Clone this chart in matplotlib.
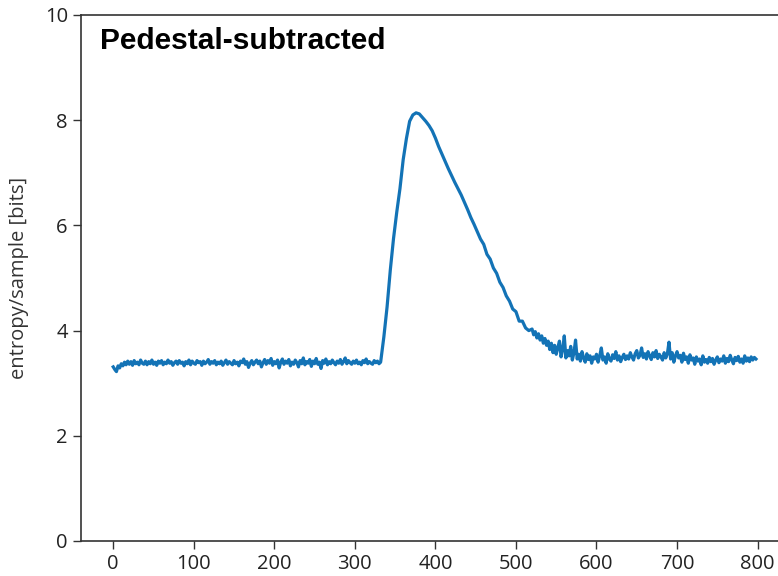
import numpy as np
import matplotlib
matplotlib.use("Agg")
import matplotlib.pyplot as plt

# flat pedestal region, every 2nd sample 0-332
baseline_x = np.arange(0, 334, 2)
baseline = [
    3.31, 3.26, 3.22, 3.33, 3.29, 3.37, 3.33, 3.40, 3.35, 3.42,
    3.36, 3.41, 3.34, 3.43, 3.37, 3.40, 3.35, 3.44, 3.38, 3.36,
    3.42, 3.35, 3.41, 3.37, 3.44, 3.36, 3.40, 3.34, 3.42, 3.38,
    3.43, 3.35, 3.40, 3.37, 3.44, 3.38, 3.41, 3.34, 3.39, 3.42,
    3.36, 3.43, 3.38, 3.40, 3.33, 3.41, 3.37, 3.44, 3.35, 3.42,
    3.38, 3.36, 3.43, 3.39, 3.41, 3.34, 3.42, 3.37, 3.40, 3.45,
    3.36, 3.41, 3.38, 3.43, 3.35, 3.40, 3.37, 3.42, 3.34, 3.39,
    3.44, 3.36, 3.41, 3.38, 3.35, 3.43, 3.37, 3.40, 3.33, 3.42,
    3.39, 3.46, 3.36, 3.41, 3.30, 3.38, 3.43, 3.35, 3.40, 3.44,
    3.37, 3.42, 3.31, 3.39, 3.45, 3.36, 3.43, 3.38, 3.47, 3.34,
    3.41, 3.37, 3.44, 3.29, 3.40, 3.46, 3.36, 3.42, 3.38, 3.45,
    3.33, 3.40, 3.36, 3.44, 3.39, 3.31, 3.43, 3.37, 3.48, 3.35,
    3.41, 3.38, 3.45, 3.32, 3.42, 3.37, 3.47, 3.36, 3.40, 3.28,
    3.43, 3.38, 3.46, 3.35, 3.41, 3.37, 3.44, 3.39, 3.35, 3.42,
    3.38, 3.45, 3.36, 3.41, 3.48, 3.37, 3.43, 3.39, 3.36, 3.42,
    3.38, 3.44, 3.37, 3.40, 3.35, 3.43, 3.39, 3.46, 3.37, 3.41,
    3.38, 3.36, 3.43, 3.39, 3.42, 3.37, 3.40,
]
# rise and peak, every 4th sample 336-432
peak_x = np.arange(336, 436, 4)
peak = [
    3.88, 4.45, 5.15, 5.75, 6.25, 6.70, 7.25, 7.65, 7.98, 8.10,
    8.14, 8.12, 8.05, 7.98, 7.90, 7.80, 7.66, 7.50, 7.36, 7.22,
    7.08, 6.95, 6.82, 6.70, 6.58,
]
# decay, every 4th sample 436-516
decay_x = np.arange(436, 520, 4)
decay = [
    6.44, 6.30, 6.15, 6.02, 5.88, 5.74, 5.64, 5.45, 5.36, 5.19,
    5.09, 4.92, 4.82, 4.66, 4.56, 4.41, 4.36, 4.18, 4.18, 4.05,
    4.00,
]
# noisy tail, every 2nd sample 520-798
tail_x = np.arange(520, 800, 2)
tail = [
    4.03, 3.92, 3.98, 3.86, 3.94, 3.82, 3.90, 3.76, 3.85, 3.72,
    3.80, 3.64, 3.76, 3.58, 3.72, 3.55, 3.68, 3.80, 3.50, 3.64,
    3.90, 3.48, 3.62, 3.52, 3.70, 3.44, 3.58, 3.82, 3.46, 3.55,
    3.42, 3.60, 3.48, 3.40, 3.56, 3.45, 3.52, 3.38, 3.50, 3.46,
    3.55, 3.40, 3.52, 3.67, 3.44, 3.50, 3.38, 3.56, 3.46, 3.42,
    3.54, 3.47, 3.60, 3.44, 3.52, 3.41, 3.49, 3.55, 3.45, 3.52,
    3.46, 3.58, 3.50, 3.44, 3.56, 3.62, 3.48, 3.53, 3.67, 3.49,
    3.56, 3.46, 3.60, 3.52, 3.45, 3.58, 3.50, 3.62, 3.47, 3.55,
    3.50, 3.44, 3.58, 3.48, 3.56, 3.78, 3.46, 3.58, 3.40, 3.52,
    3.60, 3.48, 3.53, 3.40, 3.57, 3.45, 3.50, 3.38, 3.54, 3.44,
    3.48, 3.36, 3.50, 3.42, 3.46, 3.35, 3.52, 3.40, 3.45, 3.38,
    3.49, 3.41, 3.47, 3.36, 3.44, 3.50, 3.39, 3.46, 3.42, 3.52,
    3.38, 3.47, 3.41, 3.53, 3.44, 3.37, 3.49, 3.43, 3.51, 3.40,
    3.46, 3.38, 3.52, 3.42, 3.48, 3.41, 3.50, 3.44, 3.49, 3.46,
]

samples = np.concatenate([baseline_x, peak_x, decay_x, tail_x])
entropy = baseline + peak + decay + tail

W, H = 778, 576
fig = plt.figure(figsize=(W / 100, H / 100), dpi=100)
# right spine falls just outside the picture, as in the cropped original
ax = fig.add_axes([81 / W, 35 / H, 708 / W, 526 / H])

ax.plot(samples, entropy, color="#1373b6", lw=2.3)

ax.set_xlim(-40, 839)
ax.set_ylim(0, 10)
ax.set_xticks(range(0, 801, 100))
ax.set_yticks(range(0, 11, 2))

tick_font = ["Open Sans", "DejaVu Sans"]
for lab in ax.get_xticklabels() + ax.get_yticklabels():
    lab.set_fontfamily(tick_font)
    lab.set_fontsize(14.5)
    lab.set_color("#222222")
ax.tick_params(length=5.5, width=1, color="#333333", pad=4)

ax.set_ylabel("entropy/sample [bits]", family=tick_font, fontsize=14.5,
              color="#333333")
ax.yaxis.set_label_coords((29 - 81) / 708, 0.5)

for side in ("left", "bottom", "top", "right"):
    ax.spines[side].set_color("#333333")
    ax.spines[side].set_linewidth(1.2)

fig.text(100 / W, 1 - 49 / H, "Pedestal-subtracted", family="Liberation Sans",
         fontweight="bold", fontsize=21.5, va="baseline", ha="left")

fig.savefig("out.png", dpi=100)
